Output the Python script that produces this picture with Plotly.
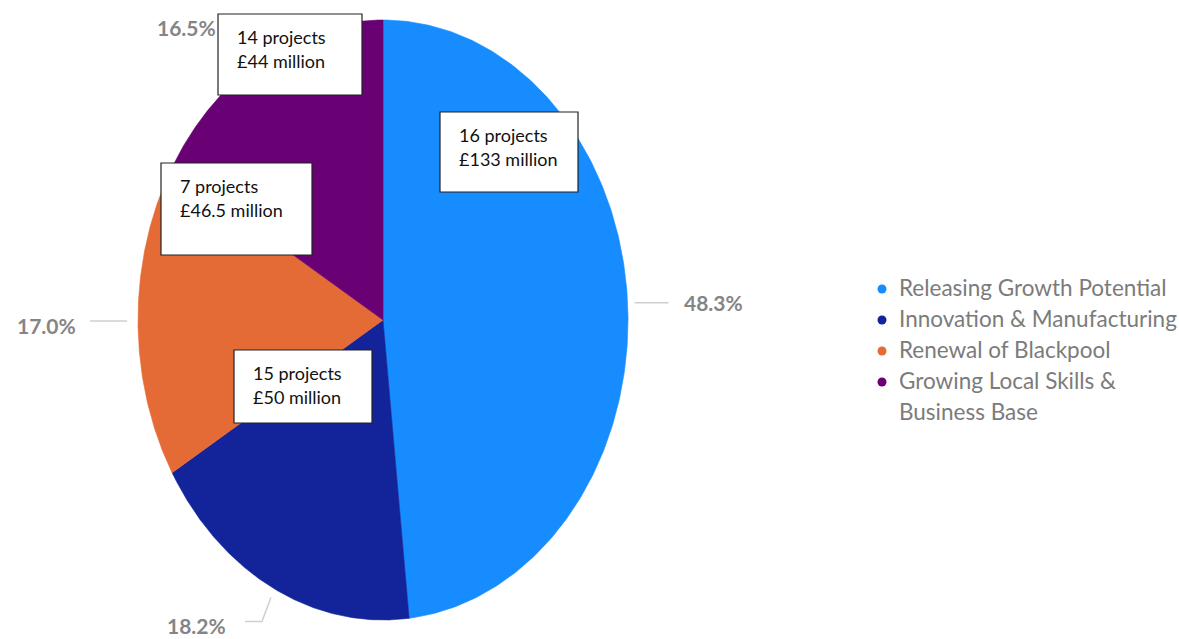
import numpy as np
import plotly.graph_objects as go

# Programme themes and their share of the funding
themes = ["Releasing Growth Potential", "Innovation & Manufacturing",
          "Renewal of Blackpool", "Growing Local Skills &<br>Business Base"]
shares = [48.3, 18.2, 17.0, 16.5]
share_labels = ["48.3%", "18.2%", "17.0%", "16.5%"]
projects = [16, 15, 7, 14]
funding = ["£133 million", "£50 million", "£46.5 million", "£44 million"]
colors = ["#168cff", "#13239a", "#e46b35", "#690073"]

# Elliptical pie geometry (pixel space)
CX, CY, RX, RY = 383, 320, 245, 300

fig = go.Figure()

def ellipse_pt(frac, scale=1.0):
    ang = 2 * np.pi * frac
    return CX + RX * scale * np.sin(ang), CY - RY * scale * np.cos(ang)

cum = np.concatenate([[0], np.cumsum(shares)]) / sum(shares)
for i, name in enumerate(themes):
    t = np.linspace(cum[i], cum[i + 1], 200)
    xs, ys = ellipse_pt(t)
    xs = np.concatenate([[CX], xs, [CX]])
    ys = np.concatenate([[CY], ys, [CY]])
    fig.add_trace(go.Scatter(x=xs, y=ys, fill="toself", fillcolor=colors[i],
                             mode="lines", line=dict(width=0.6, color=colors[i]),
                             hoverinfo="skip", showlegend=False, name=name))

# Legend: coloured dots with grey labels
LEG_X, LEG_Y, LEG_STEP = 882, 287, 31
legend_font = dict(family="Lato", size=22.5, color="#7b7b7b")
row = 0
for i, name in enumerate(themes):
    parts = name.split("<br>")
    fig.add_trace(go.Scatter(x=[LEG_X], y=[LEG_Y + LEG_STEP * row + 2], mode="markers",
                             marker=dict(color=colors[i], size=9),
                             hoverinfo="skip", showlegend=False))
    for p in parts:
        fig.add_annotation(x=LEG_X + 15, y=LEG_Y + LEG_STEP * row, text=p,
                           xanchor="left", yanchor="middle", showarrow=False,
                           font=legend_font)
        row += 1

# Percentage labels with leader lines
mid = (cum[:-1] + cum[1:]) / 2
label_pos = [(682, 302, "left"), (165, 625, "left"), (78, 325, "right"), (218, 27, "right")]
grey_line = "#cfcfcf"
for i in range(4):
    lx, ly, side = label_pos[i]
    sx, sy = ellipse_pt(mid[i], 1.02)
    if i == 0:
        fig.add_trace(go.Scatter(x=[sx + 2, sx + 36], y=[sy - 1, sy - 1], mode="lines",
                                 line=dict(color=grey_line, width=1.5),
                                 hoverinfo="skip", showlegend=False))
    elif i == 2:
        fig.add_trace(go.Scatter(x=[sx - 6, sx - 43], y=[sy + 1, sy + 1], mode="lines",
                                 line=dict(color=grey_line, width=1.5),
                                 hoverinfo="skip", showlegend=False))
    elif i == 1:
        fig.add_trace(go.Scatter(x=[sx, sx - 9, sx - 26], y=[sy + 4, sy + 28, sy + 28],
                                 mode="lines", line=dict(color=grey_line, width=1.5),
                                 hoverinfo="skip", showlegend=False))
    fig.add_annotation(x=lx, y=ly, text=share_labels[i], showarrow=False,
                       xanchor=side, yanchor="middle",
                       font=dict(family="Lato", size=21, color="#858585", weight="bold"))

# Project count / funding boxes
boxes = [(440, 112, 578, 192), (234, 350, 372, 423), (161, 163, 312, 255), (218, 14, 362, 95)]
box_font = dict(family="Lato", size=18, color="#111111")
for i, (x0, y0, x1, y1) in enumerate(boxes):
    fig.add_shape(type="rect", x0=x0, y0=y0, x1=x1, y1=y1, xref="x", yref="y",
                  fillcolor="white", line=dict(color="#222222", width=1.2))
    lines = [f"{projects[i]} projects", funding[i]]
    for k, line in enumerate(lines):
        fig.add_annotation(x=x0 + 18, y=y0 + 23 + 24 * k, xanchor="left", yanchor="middle",
                           text=line, align="left", showarrow=False, font=box_font,
                           borderpad=0)

fig.update_layout(
    width=1179, height=639,
    margin=dict(l=0, r=0, t=0, b=0),
    paper_bgcolor="white", plot_bgcolor="white",
    showlegend=False,
    xaxis=dict(range=[0, 1179], visible=False, fixedrange=True),
    yaxis=dict(range=[639, 0], visible=False, fixedrange=True),
)

fig.write_html("out.html")
